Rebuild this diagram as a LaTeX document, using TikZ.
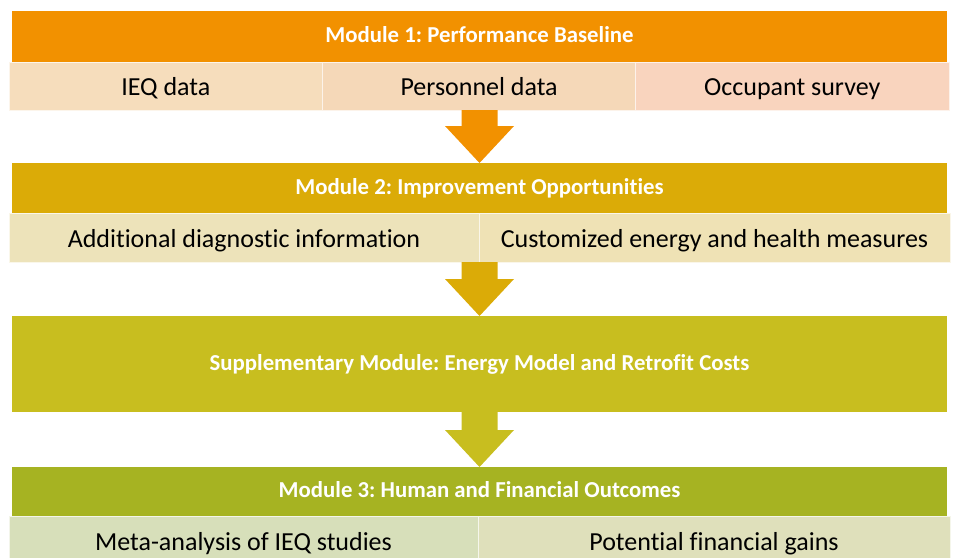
\documentclass[tikz,border=0pt]{standalone}
\usepackage{fontspec}
\setmainfont{Carlito}[Ligatures=NoCommon]
\usetikzlibrary{calc}
\definecolor{orgH}{HTML}{F29100}
\definecolor{orgA}{HTML}{F6DDBC}
\definecolor{orgB}{HTML}{F5D8B8}
\definecolor{orgC}{HTML}{F9D4BE}
\definecolor{yelH}{HTML}{DBAB07}
\definecolor{yelA}{HTML}{EDE3BA}
\definecolor{yelB}{HTML}{EFE2B5}
\definecolor{supH}{HTML}{C8BE1F}
\definecolor{grnH}{HTML}{A6B322}
\definecolor{grnA}{HTML}{D7DFBA}
\definecolor{grnB}{HTML}{DFE0BB}
\tikzset{
  x=1pt, y=-1pt,
  box/.style={rectangle, inner sep=0pt, outer sep=0pt, anchor=north west},
  hdr/.style={box, text=white, font=\fontsize{22.8}{26}\selectfont\bfseries, minimum width=935pt, text height=12.7pt, text depth=0pt},
  sub/.style={box, text=black, font=\fontsize{26}{30}\selectfont, draw=white!70!#1, line width=0.8pt, fill=#1, text height=19pt, text depth=0pt},
}
\newcommand\blockarrow[4]{% from node, to node, x-ref node, colour
  \fill[#4] let \p1=(#1.south), \p2=(#2.north), \p3=(#3.center) in
    (\x3-18pt,\y1) -- (\x3+18pt,\y1) -- (\x3+18pt,\y2+37pt) -- (\x3+34.5pt,\y2+37pt)
    -- (\x3,\y2) -- (\x3-34.5pt,\y2+37pt) -- (\x3-18pt,\y2+37pt) -- cycle;}
\begin{document}
\frenchspacing
\begin{tikzpicture}
\useasboundingbox (0,0) rectangle (953,557);
\begin{scope}
\clip (0,0) rectangle (953,557);
% Module 1
\node[hdr, fill=orgH, minimum height=51pt] (m1) at (12,11) {Module 1: Performance Baseline};
\node[sub=orgA, minimum width=313.7pt, minimum height=48pt] (s1a) at (9,62) {IEQ data};
\node[sub=orgB, minimum width=312.8pt, minimum height=48pt] (s1b) at (322.7,62) {Personnel data};
\node[sub=orgC, minimum width=313.5pt, minimum height=48pt] (s1c) at (635.5,62) {Occupant survey};
% Module 2
\node[hdr, fill=yelH, minimum height=50pt] (m2) at (12,163) {Module 2: Improvement Opportunities};
\node[sub=yelA, minimum width=470pt, minimum height=49pt] (s2a) at (9,213) {Additional diagnostic information};
\node[sub=yelB, minimum width=471pt, minimum height=49pt] (s2b) at (479,213) {Customized energy and health measures};
% Supplementary
\node[hdr, fill=supH, minimum height=96pt] (sup) at (12,316) {Supplementary Module: Energy Model and Retrofit Costs};
% Module 3
\node[hdr, fill=grnH, minimum height=49pt] (m3) at (12,467) {Module 3: Human and Financial Outcomes};
\node[sub=grnA, minimum width=469pt, minimum height=49pt] (s3a) at (9,516) {Meta-analysis of IEQ studies};
\node[sub=grnB, minimum width=472pt, minimum height=49pt] (s3b) at (478,516) {Potential financial gains};
% arrows
\blockarrow{s1b}{m2}{m1}{orgH}
\blockarrow{s2a}{sup}{m2}{yelH}
\blockarrow{sup}{m3}{sup}{supH}
\end{scope}
\end{tikzpicture}
\end{document}
